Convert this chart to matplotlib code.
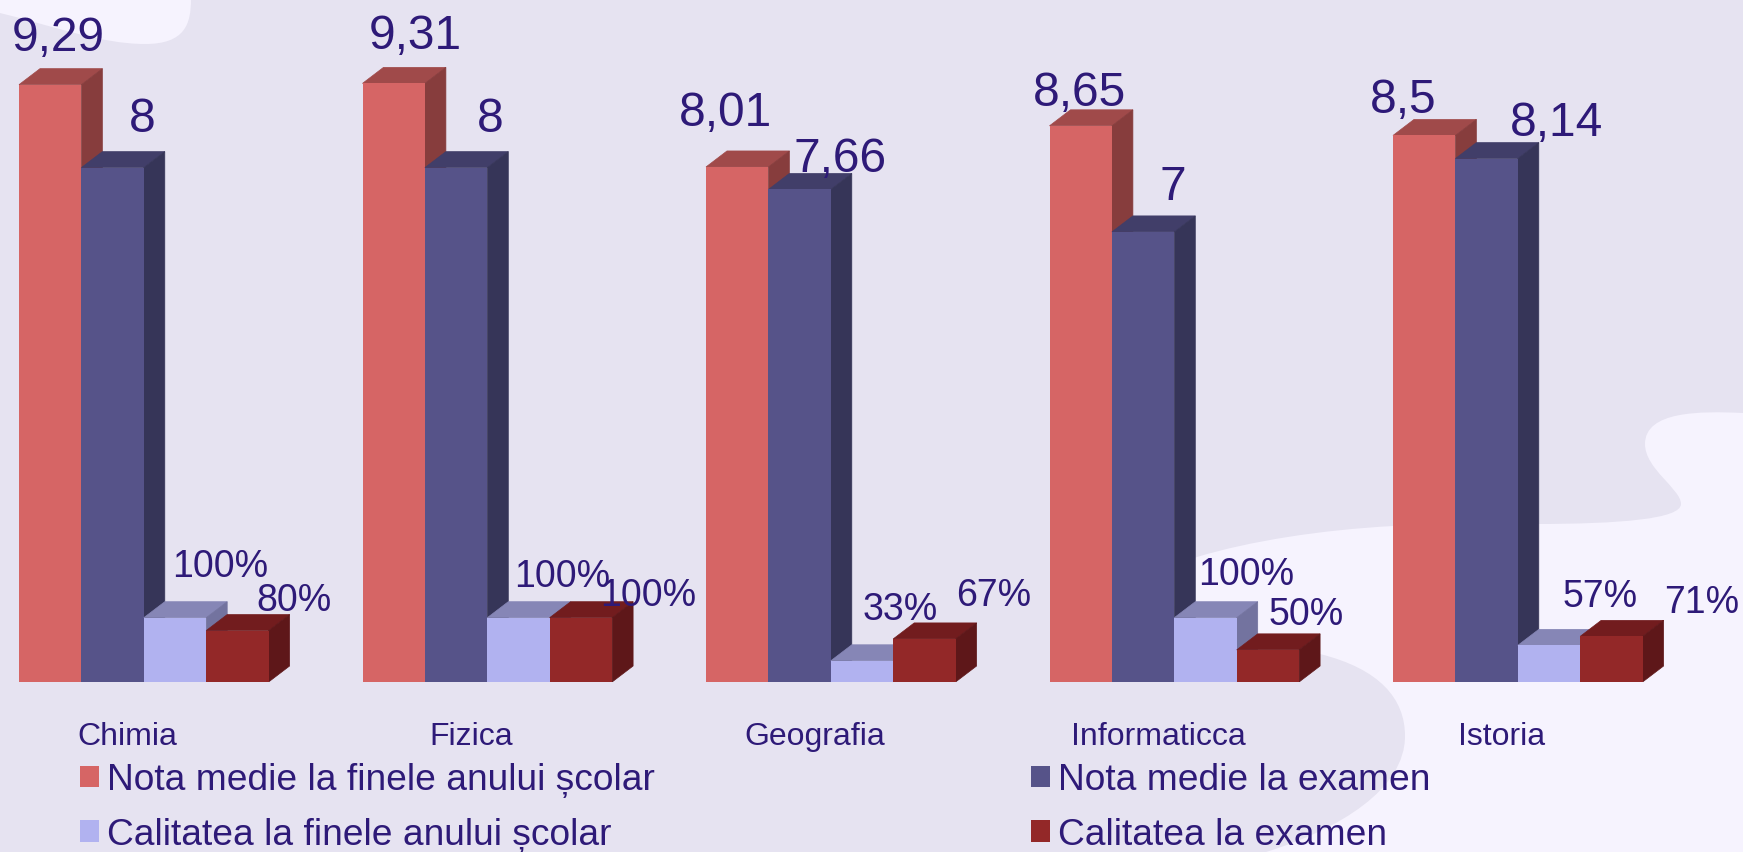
import matplotlib
matplotlib.use('Agg')
import matplotlib.pyplot as plt
from matplotlib.patches import PathPatch, Polygon
from matplotlib.path import Path
from matplotlib.transforms import Affine2D
import numpy as np

categories = ['Chimia', 'Fizica', 'Geografia', 'Informaticca', 'Istoria']
nota_finele = [9.29, 9.31, 8.01, 8.65, 8.5]
nota_examen = [8, 8, 7.66, 7, 8.14]
calitate_finele = [1.00, 1.00, 0.33, 1.00, 0.57]
calitate_examen = [0.80, 1.00, 0.67, 0.50, 0.71]

nota_finele_txt = ['9,29', '9,31', '8,01', '8,65', '8,5']
nota_examen_txt = ['8', '8', '7,66', '7', '8,14']
calitate_finele_txt = ['100%', '100%', '33%', '100%', '57%']
calitate_examen_txt = ['80%', '100%', '67%', '50%', '71%']

legend_names = ['Nota medie la finele anului școlar', 'Nota medie la examen',
                'Calitatea la finele anului școlar', 'Calitatea la examen']

W, H = 1743, 853
BASE_PX = 683
UNIT_PX = 64.3
STEP_PX = 343.5
LEFT_PX = 19
BAR_W = 62.4 / STEP_PX
DX = 21 / STEP_PX
DY = 16 / UNIT_PX

BG = '#E6E3F1'
LIGHT = '#F6F3FE'
TEXT = '#2E1A78'

# front, top, side
colors = [('#D66565', '#A04A4A', '#873D3D'),
          ('#565389', '#413E69', '#363558'),
          ('#B1B2F0', '#8686B6', '#73739F'),
          ('#932828', '#721C1E', '#5E1719')]

# label centres, pixels from the bar's front top centre
label_off = [
    [(8, -52), (30, -54), (45, -56), (57, -35)],
    [(22, -53), (34, -54), (44, -46), (67, -27)],
    [(-12, -59), (40, -36), (38, -56), (69, -48)],
    [(-1, -38), (30, -50), (41, -48), (38, -40)],
    [(-21, -41), (70, -41), (51, -53), (90, -38)],
]

plt.rcParams['font.family'] = ['Liberation Sans', 'DejaVu Sans']

fig = plt.figure(figsize=(W / 100, H / 100), dpi=100, facecolor=BG)

# background shapes, in picture pixels
px = Affine2D().scale(1 / W, -1 / H).translate(0, 1) + fig.transFigure


def blob(verts):
    codes = [Path.MOVETO] + [Path.CURVE4] * (len(verts) - 1)
    return PathPatch(Path(verts, codes), fc=LIGHT, ec='none', transform=px, zorder=0)


fig.add_artist(blob([(0, 0), (0, 5), (0, 14), (0, 14),
                     (50, 26), (100, 45), (145, 45),
                     (185, 45), (191, 25), (191, 0),
                     (120, 0), (60, 0), (0, 0)]))
fig.add_artist(blob([(1743, 414), (1700, 412), (1645, 412), (1645, 445),
                     (1645, 470), (1681, 490), (1681, 505),
                     (1681, 520), (1620, 525), (1534, 525),
                     (1480, 525), (1420, 525), (1393, 527),
                     (1320, 531), (1250, 542), (1197, 558),
                     (1150, 575), (1150, 620), (1250, 640),
                     (1280, 645), (1300, 650), (1320, 655),
                     (1380, 670), (1405, 700), (1405, 737),
                     (1405, 790), (1340, 830), (1266, 853),
                     (1400, 853), (1600, 853), (1743, 853),
                     (1743, 700), (1743, 550), (1743, 414)]))

ax = fig.add_axes([0, (H - BASE_PX) / H, 1, BASE_PX / H])
ax.patch.set_alpha(0)
ax.set_xlim(-LEFT_PX / STEP_PX, (W - LEFT_PX) / STEP_PX)
ax.set_ylim(0, BASE_PX / UNIT_PX)
for s in ax.spines.values():
    s.set_visible(False)
ax.set_yticks([])

series = [nota_finele, nota_examen, calitate_finele, calitate_examen]
texts = [nota_finele_txt, nota_examen_txt, calitate_finele_txt, calitate_examen_txt]
x = np.arange(len(categories))
handles = []
for j, vals in enumerate(series):
    front, top, side = colors[j]
    xs = x + j * BAR_W
    z = 2 + j
    for xi, v in zip(xs, vals):
        ax.add_patch(Polygon([(xi, v), (xi + DX, v + DY), (xi + BAR_W + DX, v + DY), (xi + BAR_W, v)],
                             fc=top, ec=top, lw=0.5, zorder=z))
        ax.add_patch(Polygon([(xi + BAR_W, 0), (xi + BAR_W + DX, DY), (xi + BAR_W + DX, v + DY), (xi + BAR_W, v)],
                             fc=side, ec=side, lw=0.5, zorder=z))
    handles.append(ax.bar(xs, vals, BAR_W, align='edge', color=front, zorder=z))
    for i, (xi, v) in enumerate(zip(xs, vals)):
        big = j < 2
        ax.annotate(texts[j][i], (xi + BAR_W / 2, v), xytext=(label_off[i][j][0] * 0.72, -label_off[i][j][1] * 0.72),
                    textcoords='offset points', ha='center', va='center_baseline',
                    fontsize=34.5 if big else 27, color=TEXT, zorder=10)

ax.set_xticks(x + 2 * BAR_W - 16 / STEP_PX)
ax.set_xticklabels(categories, fontsize=23, color=TEXT)
ax.tick_params(axis='x', length=0, pad=28)

leg = fig.legend([handles[0], handles[2], handles[1], handles[3]],
                 [legend_names[0], legend_names[2], legend_names[1], legend_names[3]],
                 ncol=2, loc='lower left', bbox_to_anchor=(80 / W, 0 / H), frameon=False,
                 fontsize=26.7, labelcolor=TEXT, handlelength=0.51, handleheight=0.51,
                 handletextpad=0.22, columnspacing=10.15, labelspacing=0.53,
                 borderpad=0, borderaxespad=0)

fig.savefig('out.png', dpi=100, facecolor=BG)
